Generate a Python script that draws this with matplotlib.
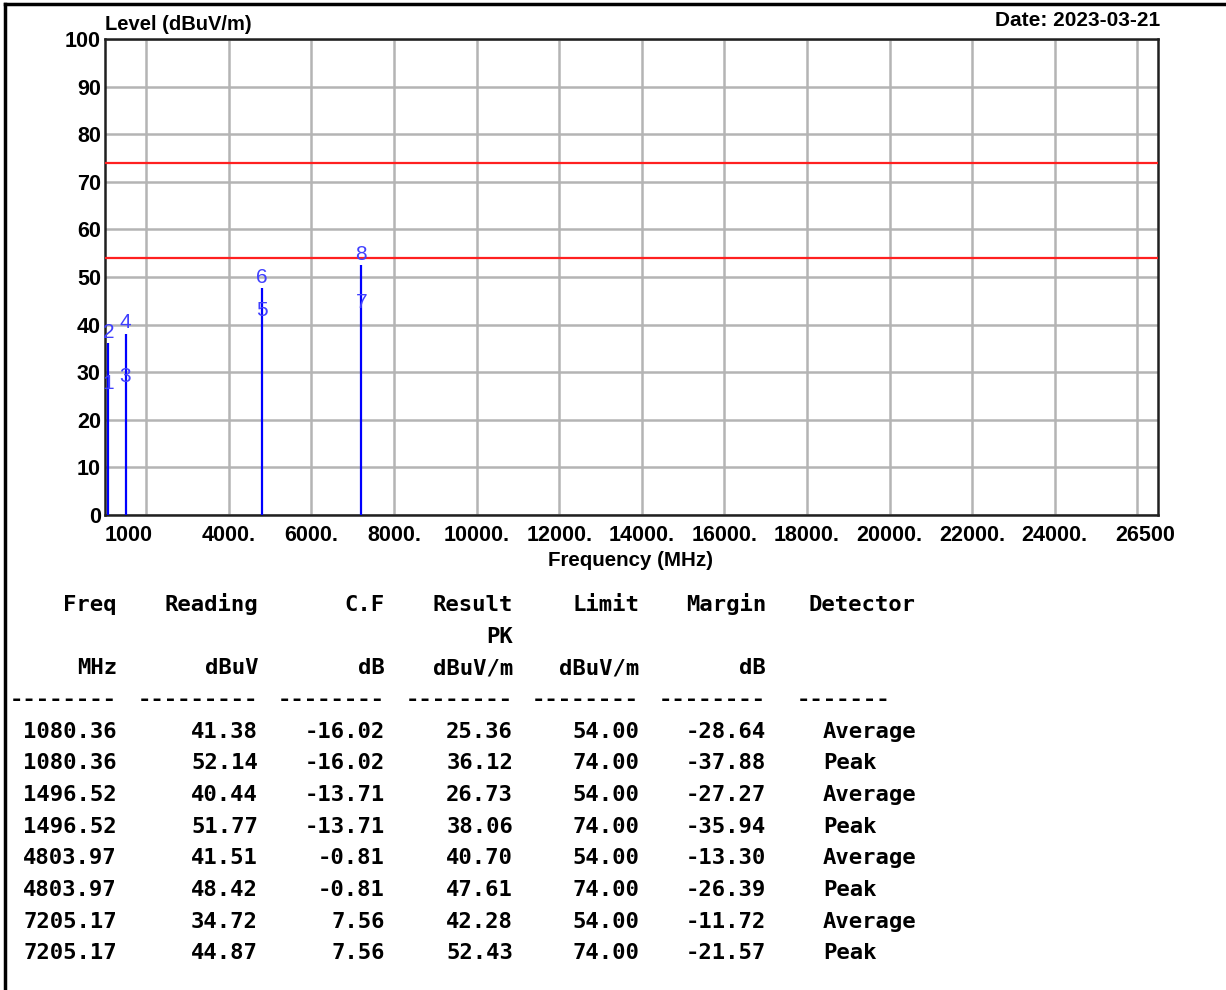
import matplotlib.pyplot as plt
from matplotlib.lines import Line2D

# measured emission data
freq = [1080.36, 1080.36, 1496.52, 1496.52, 4803.97, 4803.97, 7205.17, 7205.17]
reading = [41.38, 52.14, 40.44, 51.77, 41.51, 48.42, 34.72, 44.87]
cf = [-16.02, -16.02, -13.71, -13.71, -0.81, -0.81, 7.56, 7.56]
result = [25.36, 36.12, 26.73, 38.06, 40.70, 47.61, 42.28, 52.43]
limit = [54.00, 74.00, 54.00, 74.00, 54.00, 74.00, 54.00, 74.00]
margin = [-28.64, -37.88, -27.27, -35.94, -13.30, -26.39, -11.72, -21.57]
detector = ['Average', 'Peak', 'Average', 'Peak', 'Average', 'Peak', 'Average', 'Peak']

limit_lines = [74, 54]
xtick_vals = list(range(2000, 26001, 2000))
xtick_labels = ['' if v in (2000, 26000) else f'{v}.' for v in xtick_vals]

W, H = 1226, 990
fig = plt.figure(figsize=(W / 100, H / 100), dpi=100)
ax = fig.add_axes([105 / W, 1 - 515 / H, 1053 / W, 476 / H])

# grid
ax.set_xlim(1000, 26500)
ax.set_ylim(0, 100)
ax.set_xticks(xtick_vals)
ax.set_xticklabels(xtick_labels)
ax.set_yticks(range(0, 101, 10))
ax.grid(True, color='#b4b4b4', linewidth=1.8)
ax.set_axisbelow(True)
ax.tick_params(length=0, labelsize=15.5)
ax.tick_params(axis='x', pad=7)
ax.tick_params(axis='y', pad=3)
for lab in ax.get_xticklabels() + ax.get_yticklabels():
    lab.set_fontweight('bold')
    lab.set_family('Liberation Sans')
for s in ax.spines.values():
    s.set_linewidth(1.8)
    s.set_color('#202020')

# limit lines
for lv in limit_lines:
    ax.axhline(lv, color='#ff2020', linewidth=1.6, zorder=3)

# stems (one line per frequency up to highest result)
stem_f = {}
for f, r in zip(freq, result):
    stem_f[f] = max(stem_f.get(f, 0), r)
ax.vlines(list(stem_f.keys()), 0, list(stem_f.values()), color='#0000ff', linewidth=1.6, zorder=4)

for i, (f, r) in enumerate(zip(freq, result)):
    ax.annotate(str(i + 1), xy=(f, r), xytext=(0, 4), textcoords='offset points',
                ha='center', va='baseline', color='#4040ff', fontsize=15,
                family='Liberation Sans', zorder=5)

# extra x labels at ends
ax.annotate('1000', xy=(0, 0), xycoords='axes fraction', xytext=(0, -7), textcoords='offset points',
            ha='left', va='top', fontsize=15.5, fontweight='bold', family='Liberation Sans')
ax.annotate('26500', xy=(1, 0), xycoords='axes fraction', xytext=(12, -7), textcoords='offset points',
            ha='right', va='top', fontsize=15.5, fontweight='bold', family='Liberation Sans')

fig.text(105 / W, 1 - 24 / H, 'Level (dBuV/m)', ha='left', va='center', fontsize=14.5,
         fontweight='bold', family='Liberation Sans')
fig.text(1160 / W, 1 - 20 / H, 'Date: 2023-03-21', ha='right', va='center', fontsize=15,
         fontweight='bold', family='Liberation Sans')
fig.text(631 / W, 1 - 560 / H, 'Frequency (MHz)', ha='center', va='center', fontsize=14.8,
         fontweight='bold', family='Liberation Sans')

# border lines
fig.add_artist(Line2D([5 / W, 1], [1 - 4 / H, 1 - 4 / H], color='black', linewidth=2.5, transform=fig.transFigure))
fig.add_artist(Line2D([5 / W, 5 / W], [0, 1 - 4 / H], color='black', linewidth=2.5, transform=fig.transFigure))

# table
col_right = [117, 258, 385, 513, 639, 766]
det_x = 823
line0 = 611
step = 31.66
mono = dict(family='DejaVu Sans Mono', fontweight='bold', fontsize=16, va='baseline')


def put(x, line, s, ha='right'):
    fig.text(x / W, 1 - (line0 + line * step) / H, s, ha=ha, **mono)


head1 = ['Freq', 'Reading', 'C.F', 'Result', 'Limit', 'Margin']
head2 = ['', '', '', 'PK', '', '']
head3 = ['MHz', 'dBuV', 'dB', 'dBuV/m', 'dBuV/m', 'dB']
dashes = ['--------', '---------', '--------', '--------', '--------', '--------']
for x, a, b, c, d in zip(col_right, head1, head2, head3, dashes):
    put(x, 0, a)
    put(x, 1, b)
    put(x, 2, c)
    put(x, 3, d)
put(808, 0, 'Detector', ha='left')
put(797, 3, '-------', ha='left')

for i in range(len(freq)):
    vals = [f'{freq[i]:.2f}', f'{reading[i]:.2f}', f'{cf[i]:.2f}', f'{result[i]:.2f}',
            f'{limit[i]:.2f}', f'{margin[i]:.2f}']
    for x, v in zip(col_right, vals):
        put(x, 4 + i, v)
    put(det_x, 4 + i, detector[i], ha='left')

fig.savefig('out.png', dpi=100)
